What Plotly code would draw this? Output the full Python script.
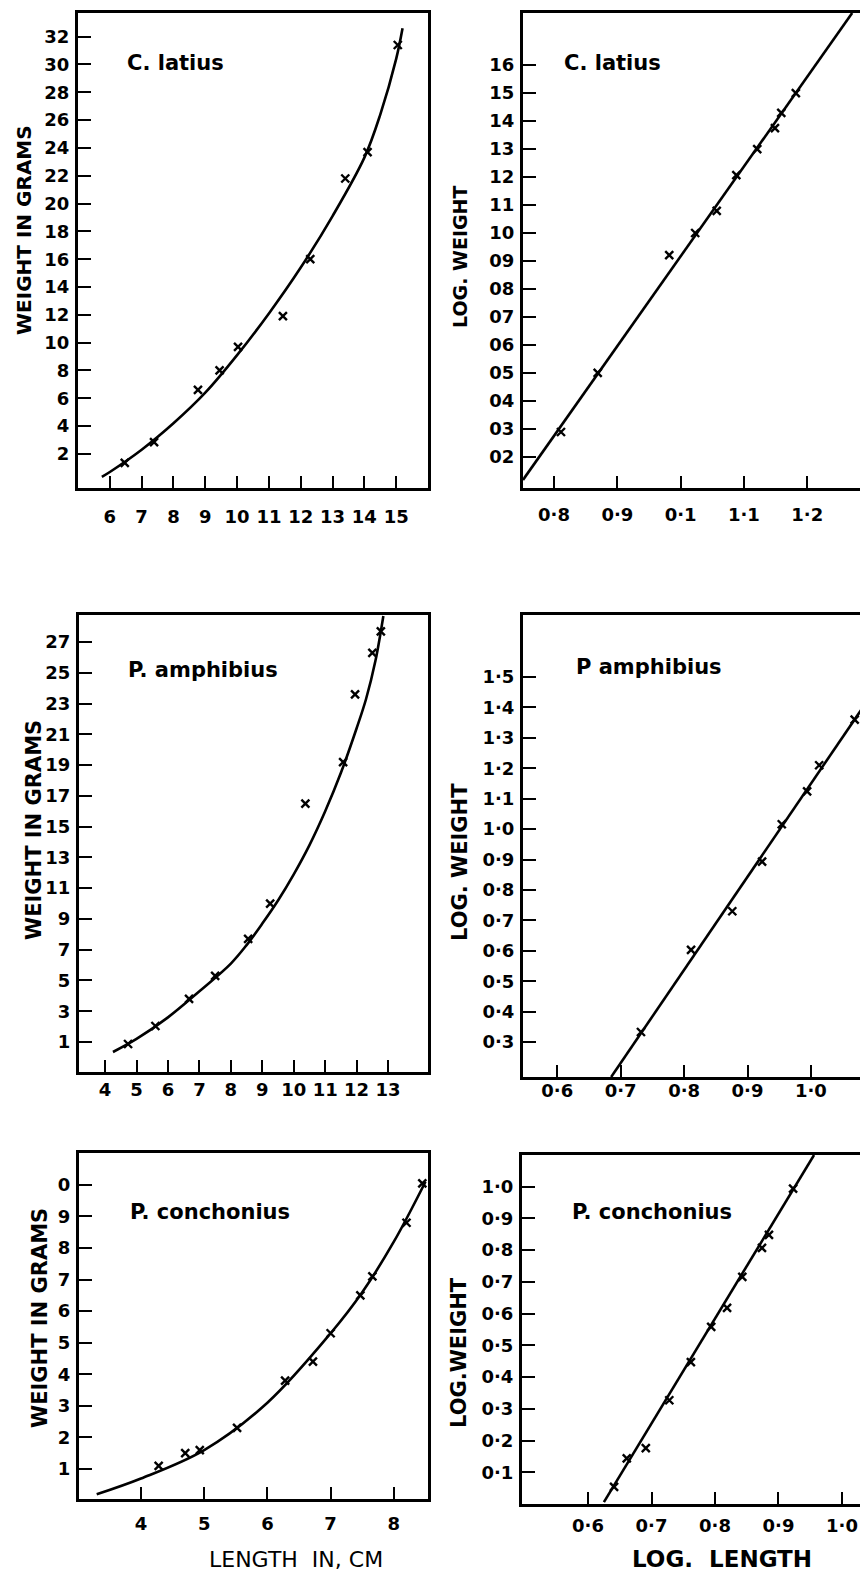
import plotly.graph_objects as go

# The page body has an 8 px margin, so the figure is made 8 px smaller and
# every reference pixel position is shifted by that offset.
REF_W, REF_H = 868, 1575
OFF = 8
W, H = REF_W - OFF, REF_H - OFF

# ---------------- data ----------------
# Panel 1: C. latius  length (cm) vs weight (g)
cl_len = [6.47, 7.39, 8.77, 9.45, 10.03, 11.44, 12.3, 13.4, 14.1, 15.05]
cl_wt = [1.35, 2.85, 6.6, 8.0, 9.7, 11.9, 16.0, 21.8, 23.7, 31.4]
cl_curve_len = [5.75, 6.0, 7.0, 8.0, 9.0, 10.0, 11.0, 12.0, 13.0, 14.0, 14.5, 15.0, 15.2]
cl_curve_wt = [0.35, 0.7, 2.3, 4.2, 6.4, 9.1, 12.1, 15.4, 19.1, 23.3, 26.4, 30.4, 32.6]

# Panel 2: C. latius  log length vs log weight
cl_loglen = [0.811, 0.869, 0.982, 1.023, 1.057, 1.088, 1.121, 1.149, 1.159, 1.182]
cl_logwt = [0.289, 0.50, 0.921, 1.0, 1.079, 1.207, 1.30, 1.375, 1.429, 1.50]
cl_line_x = [0.751, 1.271]
cl_line_y = [0.118, 1.786]

# Panel 3: P. amphibius  length vs weight
pa_len = [4.73, 5.6, 6.67, 7.5, 8.55, 9.25, 10.37, 11.57, 11.95, 12.5, 12.77]
pa_wt = [0.87, 2.04, 3.8, 5.3, 7.7, 10.0, 16.5, 19.2, 23.6, 26.3, 27.7]
pa_curve_len = [4.25, 5.0, 6.0, 7.0, 8.0, 8.5, 9.0, 9.5, 10.0, 10.5, 11.0, 11.5, 12.0, 12.3, 12.6, 12.85]
pa_curve_wt = [0.35, 1.2, 2.6, 4.3, 6.1, 7.3, 8.7, 10.2, 11.9, 13.8, 16.0, 18.5, 21.4, 23.3, 25.8, 28.7]

# Panel 4: P. amphibius  log length vs log weight
pa_loglen = [0.732, 0.811, 0.876, 0.923, 0.954, 0.994, 1.013, 1.069, 1.087]
pa_logwt = [0.333, 0.603, 0.73, 0.893, 1.016, 1.124, 1.21, 1.36, 1.42]
pa_line_x = [0.685, 1.09]
pa_line_y = [0.185, 1.425]

# Panel 5: P. conchonius  length vs weight
pc_len = [4.28, 4.7, 4.93, 5.52, 6.28, 6.72, 7.0, 7.47, 7.66, 8.2, 8.45]
pc_wt = [1.1, 1.5, 1.6, 2.3, 3.8, 4.4, 5.3, 6.5, 7.1, 8.8, 10.05]
pc_curve_len = [3.3, 4.0, 5.0, 6.0, 7.0, 7.5, 8.0, 8.5]
pc_curve_wt = [0.2, 0.7, 1.6, 3.1, 5.3, 6.6, 8.2, 10.1]

# Panel 6: P. conchonius  log length vs log weight
pc_loglen = [0.641, 0.661, 0.691, 0.728, 0.762, 0.794, 0.819, 0.843, 0.874, 0.885, 0.923]
pc_logwt = [0.054, 0.144, 0.176, 0.327, 0.447, 0.558, 0.618, 0.716, 0.807, 0.848, 0.994]
pc_line_x = [0.625, 0.956]
pc_line_y = [0.006, 1.10]

# tick values / labels
p1_xticks = [6, 7, 8, 9, 10, 11, 12, 13, 14, 15]
p1_xlabels = ["6", "7", "8", "9", "10", "11", "12", "13", "14", "15"]
p1_yticks = [2, 4, 6, 8, 10, 12, 14, 16, 18, 20, 22, 24, 26, 28, 30, 32]
p1_ylabels = ["2", "4", "6", "8", "10", "12", "14", "16", "18", "20", "22", "24", "26", "28", "30", "32"]

p2_xticks = [0.8, 0.9, 1.0, 1.1, 1.2]
p2_xlabels = ["0·8", "0·9", "0·1", "1·1", "1·2"]
p2_yticks = [0.2, 0.3, 0.4, 0.5, 0.6, 0.7, 0.8, 0.9, 1.0, 1.1, 1.2, 1.3, 1.4, 1.5, 1.6]
p2_ylabels = ["02", "03", "04", "05", "06", "07", "08", "09", "10", "11", "12", "13", "14", "15", "16"]

p3_xticks = [4, 5, 6, 7, 8, 9, 10, 11, 12, 13]
p3_xlabels = ["4", "5", "6", "7", "8", "9", "10", "11", "12", "13"]
p3_yticks = [1, 3, 5, 7, 9, 11, 13, 15, 17, 19, 21, 23, 25, 27]
p3_ylabels = ["1", "3", "5", "7", "9", "11", "13", "15", "17", "19", "21", "23", "25", "27"]

p4_xticks = [0.6, 0.7, 0.8, 0.9, 1.0]
p4_xlabels = ["0·6", "0·7", "0·8", "0·9", "1·0"]
p4_yticks = [0.3, 0.4, 0.5, 0.6, 0.7, 0.8, 0.9, 1.0, 1.1, 1.2, 1.3, 1.4, 1.5]
p4_ylabels = ["0·3", "0·4", "0·5", "0·6", "0·7", "0·8", "0·9", "1·0", "1·1", "1·2", "1·3", "1·4", "1·5"]

p5_xticks = [4, 5, 6, 7, 8]
p5_xlabels = ["4", "5", "6", "7", "8"]
p5_yticks = [1, 2, 3, 4, 5, 6, 7, 8, 9, 10]
p5_ylabels = ["1", "2", "3", "4", "5", "6", "7", "8", "9", "0"]

p6_xticks = [0.6, 0.7, 0.8, 0.9, 1.0]
p6_xlabels = ["0·6", "0·7", "0·8", "0·9", "1·0"]
p6_yticks = [0.1, 0.2, 0.3, 0.4, 0.5, 0.6, 0.7, 0.8, 0.9, 1.0]
p6_ylabels = ["0·1", "0·2", "0·3", "0·4", "0·5", "0·6", "0·7", "0·8", "0·9", "1·0"]

# ---------------- layout helpers ----------------
FONT = "DejaVu Sans"


def xdom(l, r):
    return [(l - OFF) / W, min((r - OFF) / W, 1.0)]


def ydom(t, b):
    return [1 - (b - OFF) / H, 1 - (t - OFF) / H]


panels = [
    # (x px, y px, xrange, yrange, xticks, xlabels, yticks, ylabels, right border, x-label standoff)
    ((78, 428), (13, 488), [5.0, 16.0], [-0.45, 33.7], p1_xticks, p1_xlabels, p1_yticks, p1_ylabels, True, 10),
    ((523, 868), (13, 488), [0.751, 1.296], [0.089, 1.786], p2_xticks, p2_xlabels, p2_yticks, p2_ylabels, False, 8),
    ((79, 428), (615, 1072), [3.17, 14.27], [-0.95, 28.76], p3_xticks, p3_xlabels, p3_yticks, p3_ylabels, True, -1),
    ((523, 868), (615, 1077), [0.546, 1.09], [0.185, 1.704], p4_xticks, p4_xlabels, p4_yticks, p4_ylabels, False, -5),
    ((79, 428), (1153, 1499), [3.02, 8.54], [0.05, 11.01], p5_xticks, p5_xlabels, p5_yticks, p5_ylabels, True, 6),
    ((522, 868), (1155, 1504), [0.496, 1.041], [0.0, 1.10], p6_xticks, p6_xlabels, p6_yticks, p6_ylabels, False, 3),
]

fig = go.Figure()

series = [
    (cl_len, cl_wt, cl_curve_len, cl_curve_wt, "spline"),
    (cl_loglen, cl_logwt, cl_line_x, cl_line_y, "linear"),
    (pa_len, pa_wt, pa_curve_len, pa_curve_wt, "spline"),
    (pa_loglen, pa_logwt, pa_line_x, pa_line_y, "linear"),
    (pc_len, pc_wt, pc_curve_len, pc_curve_wt, "spline"),
    (pc_loglen, pc_logwt, pc_line_x, pc_line_y, "linear"),
]

for i, (px, py, lx, ly, shape) in enumerate(series):
    ax = "" if i == 0 else str(i + 1)
    fig.add_trace(go.Scatter(
        x=lx, y=ly, mode="lines", xaxis="x" + ax, yaxis="y" + ax,
        line=dict(color="black", width=2.6, shape=shape, smoothing=1.0),
        showlegend=False, cliponaxis=True, hoverinfo="skip"))
    fig.add_trace(go.Scatter(
        x=px, y=py, mode="markers", xaxis="x" + ax, yaxis="y" + ax,
        marker=dict(symbol="x-thin", size=8, color="black",
                    line=dict(color="black", width=2.4)),
        showlegend=False, cliponaxis=True))

layout = dict(
    width=W, height=H,
    margin=dict(l=0, r=0, t=0, b=0),
    paper_bgcolor="white", plot_bgcolor="white",
    font=dict(family=FONT, color="black"),
    showlegend=False,
)

tickfont = dict(family=FONT, size=18, color="black", weight="bold")

for i, (xd, yd, xr, yr, xt, xl, yt, yl, right, xso) in enumerate(panels):
    n = "" if i == 0 else str(i + 1)
    layout["xaxis" + n] = dict(
        domain=xdom(*xd), range=xr, anchor="y" + n,
        tickvals=xt, ticktext=xl, ticks="inside", ticklen=12, tickwidth=2,
        tickcolor="black", showline=True, linecolor="black", linewidth=3,
        mirror=True, showgrid=False, zeroline=False, tickfont=tickfont,
        ticklabelstandoff=xso, fixedrange=True)
    layout["yaxis" + n] = dict(
        domain=ydom(*yd), range=yr, anchor="x" + n,
        tickvals=yt, ticktext=yl, ticks="inside", ticklen=13, tickwidth=2,
        tickcolor="black", showline=True, linecolor="black", linewidth=3,
        mirror=right, showgrid=False, zeroline=False, tickfont=tickfont,
        ticklabelstandoff=2, fixedrange=True)

fig.update_layout(**layout)

# ---------------- text ----------------
def ann(text, x, y, size, angle=0, weight="bold", xanchor="center"):
    fig.add_annotation(
        text=text, x=(x - OFF) / W, y=1 - (y - OFF) / H, xref="paper", yref="paper",
        showarrow=False, textangle=angle, xanchor=xanchor, yanchor="middle",
        font=dict(family=FONT, size=size, color="black", weight=weight))

# species labels
ann("C. latius", 125, 63, 21, xanchor="left")
ann("C. latius", 562, 63, 21, xanchor="left")
ann("P. amphibius", 126, 670, 21, xanchor="left")
ann("P amphibius", 574, 667, 21, xanchor="left")
ann("P. conchonius", 128, 1212, 21, xanchor="left")
ann("P. conchonius", 570, 1212, 21, xanchor="left")

# y-axis titles
ann("WEIGHT IN GRAMS", 24, 230, 20, angle=-90)
ann("LOG. WEIGHT", 460, 257, 19, angle=-90)
ann("WEIGHT IN GRAMS", 34, 830, 21, angle=-90)
ann("LOG. WEIGHT", 460, 862, 21, angle=-90)
ann("WEIGHT IN GRAMS", 40, 1318, 21, angle=-90)
ann("LOG.WEIGHT", 459, 1352, 21, angle=-90)

# x-axis titles
ann("LENGTH  IN, CM", 296, 1559, 22, weight="normal")
ann("LOG.  LENGTH", 722, 1559, 23)

fig.write_html("out.html")
